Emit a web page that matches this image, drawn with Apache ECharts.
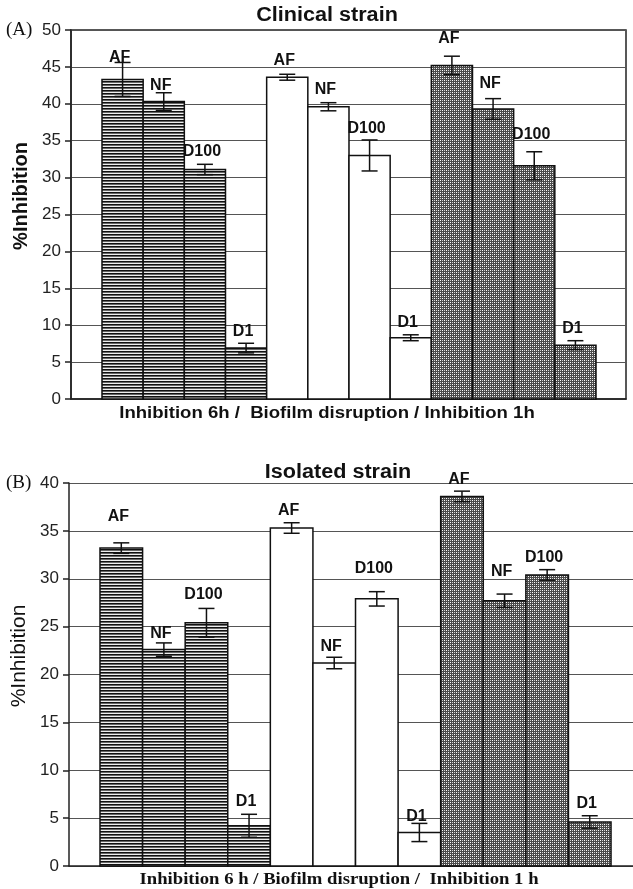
<!DOCTYPE html>
<html>
<head>
<meta charset="utf-8">
<script src="https://cdn.jsdelivr.net/npm/echarts@6/dist/echarts.min.js"></script>
<style>
  html, body { margin: 0; padding: 0; background: #fff; }
  #main { width: 633px; height: 889px; }
</style>
</head>
<body>
<div id="main"></div>
<script>
var chartDom = document.getElementById('main');
var myChart = echarts.init(chartDom);
var option;

// bar order: AF, NF, D100, D1 for each of the three assays
let treatments = ['AF', 'NF', 'D100', 'D1'];
let assays = ['Inhibition 6h', 'Biofilm disruption', 'Inhibition 1h'];

// (A) clinical strain
let clinicalMean = [43.3, 40.3, 31.1, 6.9, 43.6, 39.6, 33.0, 8.3, 45.2, 39.3, 31.6, 7.3];
let clinicalErr = [2.3, 1.2, 0.7, 0.65, 0.4, 0.55, 2.1, 0.4, 1.25, 1.4, 1.9, 0.6];
let clinicalLabelY = [46.3, 42.5, 33.5, 9.1, 45.9, 41.9, 36.7, 10.4, 48.8, 42.8, 35.8, 9.6];

// (B) isolated strain
let isolatedMean = [33.2, 22.6, 25.4, 4.2, 35.3, 21.2, 27.9, 3.5, 38.6, 27.7, 30.4, 4.6];
let isolatedErr = [0.55, 0.7, 1.5, 1.2, 0.55, 0.6, 0.75, 0.95, 0.55, 0.7, 0.55, 0.65];
let isolatedLabelY = [36.5, 24.3, 28.3, 6.7, 37.1, 22.9, 31.1, 5.2, 40.4, 30.7, 32.2, 6.5];

// fill patterns: stripes, plain white, dotted crosshatch
function makePattern(w, h, draw) {
	var c = document.createElement('canvas');
	c.width = w; c.height = h;
	var ctx = c.getContext('2d');
	draw(ctx);
	return { image: c, repeat: 'repeat' };
}
var stripes = makePattern(4, 3, function (ctx) {
	ctx.fillStyle = '#111'; ctx.fillRect(0, 0, 4, 1);
	ctx.fillStyle = '#666'; ctx.fillRect(0, 1, 4, 1);
	ctx.fillStyle = '#eee'; ctx.fillRect(0, 2, 4, 1);
});
var dots = makePattern(4, 4, function (ctx) {
	ctx.fillStyle = '#4a4a4a'; ctx.fillRect(0, 0, 4, 4);
	ctx.fillStyle = '#fff'; ctx.fillRect(0, 0, 1, 1); ctx.fillRect(2, 2, 1, 1);
	ctx.fillStyle = '#d0d0d0'; ctx.fillRect(2, 0, 1, 1); ctx.fillRect(0, 2, 1, 1);
});
var fills = [stripes, '#fff', dots];

function barData(means) {
	return means.map(function (v, i) { return [i, v]; });
}
function errData(means, errs) {
	return means.map(function (v, i) { return [i, v - errs[i], v + errs[i]]; });
}
function labelData(ys) {
	return ys.map(function (y, i) { return [i, y]; });
}

function renderBar(params, api) {
	var i = api.value(0);
	var p0 = api.coord([i - 0.5, api.value(1)]);
	var p1 = api.coord([i + 0.5, 0]);
	return {
		type: 'rect',
		shape: { x: p0[0], y: p0[1], width: p1[0] - p0[0], height: p1[1] - p0[1] },
		style: { fill: fills[Math.floor(i / 4)], stroke: '#111', lineWidth: 1.5 }
	};
}
function renderErr(params, api) {
	var i = api.value(0);
	var lo = api.coord([i, api.value(1)]);
	var hi = api.coord([i, api.value(2)]);
	var hw = 8;
	var st = { stroke: '#111', lineWidth: 1.5 };
	return {
		type: 'group',
		children: [
			{ type: 'line', shape: { x1: lo[0], y1: lo[1], x2: hi[0], y2: hi[1] }, style: st },
			{ type: 'line', shape: { x1: lo[0] - hw, y1: lo[1], x2: lo[0] + hw, y2: lo[1] }, style: st },
			{ type: 'line', shape: { x1: hi[0] - hw, y1: hi[1], x2: hi[0] + hw, y2: hi[1] }, style: st }
		]
	};
}
function renderLabel(params, api) {
	var p = api.coord([api.value(0), api.value(1)]);
	return {
		type: 'text',
		x: p[0] - 3, y: p[1],
		style: {
			text: treatments[api.value(0) % 4],
			font: 'bold 16px "Liberation Sans", Arial, sans-serif',
			fill: '#111', align: 'center', verticalAlign: 'middle'
		}
	};
}

function yAxisFor(idx, max) {
	return {
		gridIndex: idx, type: 'value', min: 0, max: max, interval: 5,
		axisLine: { show: true, onZero: false, lineStyle: { color: '#222', width: 1.5 } },
		axisTick: { show: true, length: 6, lineStyle: { color: '#222', width: 1.5 } },
		axisLabel: { margin: 10, color: '#222', fontSize: 17, fontFamily: '"Liberation Sans", Arial, sans-serif' },
		splitLine: { show: true, lineStyle: { color: '#555', width: 1.2 } }
	};
}
function xAxisFor(idx, min, max) {
	return {
		gridIndex: idx, type: 'value', min: min, max: max,
		axisLine: { show: true, onZero: false, lineStyle: { color: '#222', width: 1.5 } },
		axisTick: { show: false }, axisLabel: { show: false }, splitLine: { show: false }
	};
}
function seriesFor(idx, means, errs, labelYs) {
	return [
		{ type: 'custom', xAxisIndex: idx, yAxisIndex: idx, renderItem: renderBar, data: barData(means), z: 2 },
		{ type: 'custom', xAxisIndex: idx, yAxisIndex: idx, renderItem: renderErr, data: errData(means, errs), z: 3 },
		{ type: 'custom', xAxisIndex: idx, yAxisIndex: idx, renderItem: renderLabel, data: labelData(labelYs), z: 4, clip: false }
	];
}

var sans = '"Liberation Sans", Arial, sans-serif';
var serif = '"Liberation Serif", "Times New Roman", serif';

option = {
	animation: false,
	backgroundColor: '#fff',
	grid: [
		{ left: 71, top: 30, width: 555, height: 369, show: true, borderColor: '#222', borderWidth: 1.5 },
		{ left: 69, top: 483, width: 564, height: 383 }
	],
	xAxis: [xAxisFor(0, -1.253, 12.229), xAxisFor(1, -1.228, 12.016)],
	yAxis: [yAxisFor(0, 50), yAxisFor(1, 40)],
	series: seriesFor(0, clinicalMean, clinicalErr, clinicalLabelY)
		.concat(seriesFor(1, isolatedMean, isolatedErr, isolatedLabelY)),
	graphic: [
		{ type: 'text', x: 327, y: 15, scaleX: 1.08, style: { text: 'Clinical strain', font: 'bold 20px ' + sans, fill: '#111', align: 'center', verticalAlign: 'middle' } },
		{ type: 'text', x: 6, y: 30, style: { text: '(A)', font: '19px ' + serif, fill: '#111', align: 'left', verticalAlign: 'middle' } },
		{ type: 'text', x: 21, y: 196, rotation: Math.PI / 2, style: { text: '%Inhibition', font: 'bold 20px ' + sans, fill: '#111', align: 'center', verticalAlign: 'middle' } },
		{ type: 'text', x: 327, y: 414, scaleX: 1.16, style: { text: assays[0] + ' /  ' + assays[1] + ' / ' + assays[2], font: 'bold 16px ' + sans, fill: '#111', align: 'center', verticalAlign: 'middle' } },
		{ type: 'text', x: 338, y: 472, scaleX: 1.08, style: { text: 'Isolated strain', font: 'bold 20px ' + sans, fill: '#111', align: 'center', verticalAlign: 'middle' } },
		{ type: 'text', x: 6, y: 483, style: { text: '(B)', font: '19px ' + serif, fill: '#111', align: 'left', verticalAlign: 'middle' } },
		{ type: 'text', x: 19, y: 656, rotation: Math.PI / 2, style: { text: '%Inhibition', font: '21px ' + sans, fill: '#111', align: 'center', verticalAlign: 'middle' } },
		{ type: 'text', x: 339, y: 880, scaleX: 1.1, style: { text: 'Inhibition 6 h / Biofilm disruption /  Inhibition 1 h', font: 'bold 17px ' + serif, fill: '#111', align: 'center', verticalAlign: 'middle' } }
	]
};

option && myChart.setOption(option);
</script>
</body>
</html>
